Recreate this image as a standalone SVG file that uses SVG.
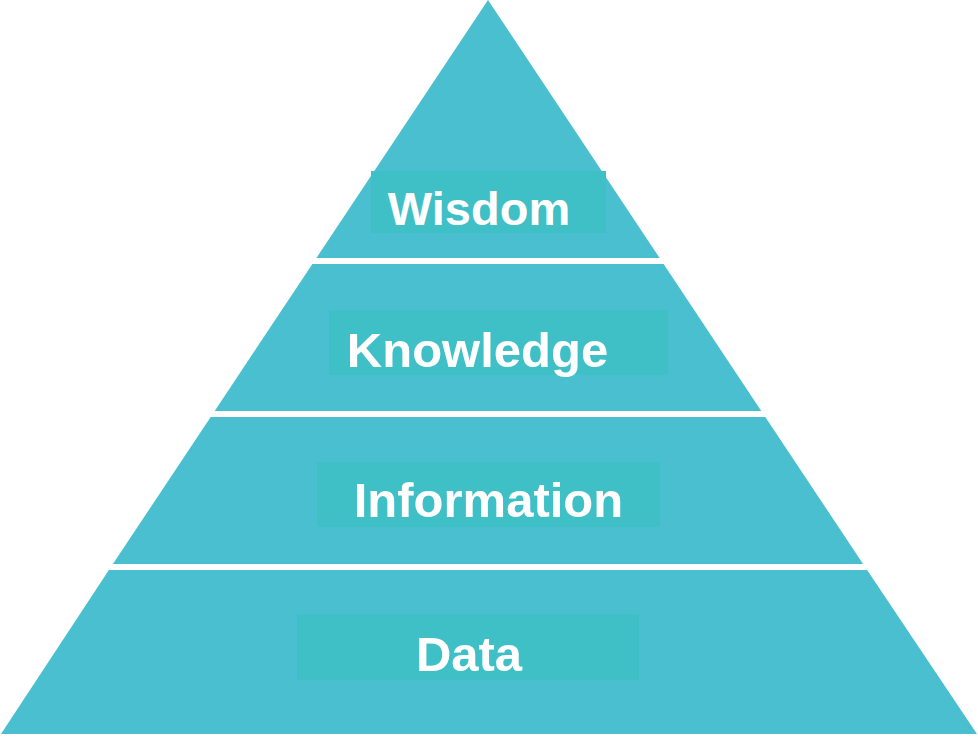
<svg xmlns="http://www.w3.org/2000/svg" width="978" height="737" viewBox="0 0 978 737">
  <style>
    .band { fill: #49bfcf; }
    .tag { fill: #3fbfc6; }
    .label { font-family: "Liberation Sans", Arial, sans-serif; font-weight: bold; fill: #ffffff; text-anchor: middle; }
  </style>
  <rect width="978" height="737" fill="#ffffff"/>
  <!-- pyramid levels: apex (488,0), base (1,734)-(977,734), slope 0.665 -->
  <g id="wisdom">
    <polygon class="band" points="488,0 659.6,258 316.4,258"/>
    <rect class="tag" x="371" y="171" width="235" height="62"/>
    <text class="label" x="479" y="225" font-size="47">Wisdom</text>
  </g>
  <g id="knowledge">
    <polygon class="band" points="312.4,264 663.6,264 761.3,411 214.7,411"/>
    <rect class="tag" x="329" y="310" width="339" height="65"/>
    <text class="label" x="477.5" y="367" font-size="49">Knowledge</text>
  </g>
  <g id="information">
    <polygon class="band" points="210.7,417 765.3,417 863.1,564 112.9,564"/>
    <rect class="tag" x="317" y="462" width="343" height="65"/>
    <text class="label" x="488.5" y="517" font-size="49">Information</text>
  </g>
  <g id="data">
    <polygon class="band" points="108.9,570 867.1,570 977,734 1,734"/>
    <rect class="tag" x="297" y="614" width="342" height="66"/>
    <text class="label" x="469" y="671" font-size="49">Data</text>
  </g>
  <g id="connectors"/>
</svg>
